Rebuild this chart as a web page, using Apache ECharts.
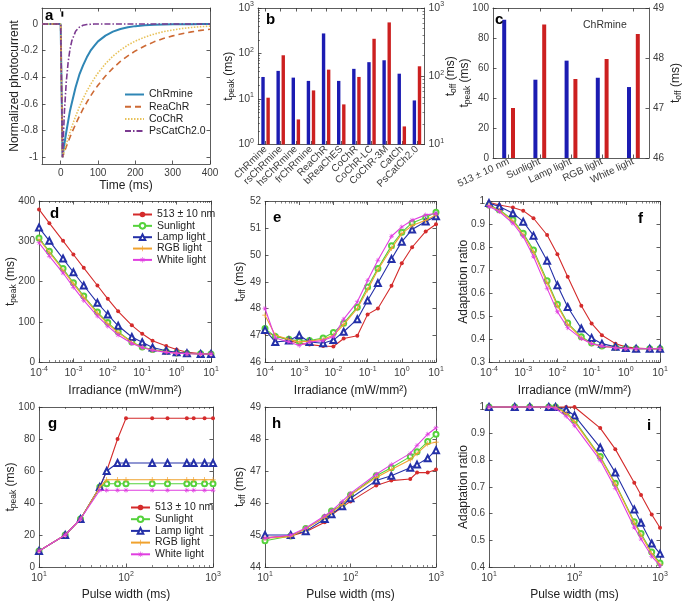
<!DOCTYPE html>
<html><head><meta charset="utf-8">
<script src="https://cdn.jsdelivr.net/npm/echarts@6/dist/echarts.min.js"></script>
<style>html,body{margin:0;padding:0;background:#fff}#c{width:685px;height:610px}</style>
</head><body><div id="c"></div>
<script>
// ================= DATA =================
// Panel a: normalized photocurrent traces
const timeMs = [-50, 0, 5, 10, 15, 20, 25, 30, 40, 50, 60, 70, 80, 90, 100, 120, 140, 160, 180, 200, 225, 250, 275, 300, 325, 350, 375, 400];
const curveChRmine = [0, 0, -1, -0.90, -0.81, -0.73, -0.65, -0.59, -0.475, -0.38, -0.31, -0.25, -0.20, -0.164, -0.13, -0.087, -0.057, -0.037, -0.024, -0.016, -0.009, -0.006, -0.003, -0.002, -0.001, -0.001, 0, 0];
const curveReaChR = [0, 0, -1, -0.96, -0.921, -0.884, -0.849, -0.815, -0.751, -0.692, -0.637, -0.587, -0.541, -0.498, -0.459, -0.39, -0.331, -0.281, -0.239, -0.202, -0.165, -0.134, -0.109, -0.089, -0.073, -0.059, -0.048, -0.039];
const curveCoChR = [0, 0, -1, -0.949, -0.90, -0.854, -0.81, -0.769, -0.692, -0.623, -0.56, -0.504, -0.454, -0.409, -0.368, -0.298, -0.241, -0.196, -0.158, -0.128, -0.099, -0.076, -0.058, -0.045, -0.034, -0.026, -0.02, -0.016];
const curvePsCatCh = [0, 0, -1, -0.659, -0.435, -0.287, -0.189, -0.125, -0.054, -0.024, -0.01, -0.004, -0.002, 0, 0, 0, 0, 0, 0, 0, 0, 0, 0, 0, 0, 0, 0, 0];
const curveNames = ['ChRmine', 'ReaChR', 'CoChR', 'PsCatCh2.0'];
const pulseMarker = [[2, 0.055], [7, 0.095]];

// Panel b: opsins
const opsins = ['ChRmine', 'rsChRmine', 'hsChRmine', 'frChRmine', 'ReaChR', 'bReaChES', 'CoChR', 'CoChR-LC', 'CoChR-3M', 'CatCh', 'PsCatCh2.0'];
const opsinTpeak = [30.5, 41.5, 29.5, 25, 276, 25, 46, 64.5, 71, 36, 9.3];
const opsinToff = [48.5, 203, 23.3, 62, 125, 38.7, 97.7, 354, 615, 18.4, 140];

// Panel c: light sources (ChRmine)
const sources = ['513 ± 10 nm', 'Sunlight', 'Lamp light', 'RGB light', 'White light'];
const sourceTpeak = [92.2, 52.2, 64.9, 53.5, 47.3];
const sourceToff = [47.0, 48.67, 47.58, 47.98, 48.48];

// Panels d-f: vs irradiance
const irradiance = [1e-4, 2e-4, 5e-4, 1e-3, 2e-3, 5e-3, 1e-2, 2e-2, 5e-2, 0.1, 0.2, 0.5, 1, 2, 5, 10];
const irrTpeak513 = [379, 345, 301, 267, 234, 190, 157, 126, 91, 70, 53, 40, 31, 24, 21, 20];
const irrTpeakSun = [308, 275, 232, 197, 164, 124, 98, 75, 50, 37, 31, 26, 22.5, 21, 20.5, 20];
const irrTpeakLamp = [334, 301, 257, 223, 190, 147, 118, 90, 62, 49, 36, 28, 24, 22, 20, 20];
const irrTpeakRGB = [305, 272, 228, 194, 161, 121, 95, 73, 49, 36, 30, 25, 22, 21, 20, 20];
const irrTpeakWhite = [296, 263, 221, 186, 153, 114, 89, 67, 46, 36, 29, 24, 22, 20.5, 20, 20];

const irrToff513 = [47.1, 47.0, 46.8, 46.7, 46.65, 46.6, 46.58, 46.88, 46.98, 47.78, 48.0, 48.85, 49.69, 50.29, 50.88, 51.15];
const irrToffSun = [47.25, 46.95, 46.85, 46.78, 46.8, 46.9, 47.1, 47.45, 48.05, 48.8, 49.5, 50.35, 50.85, 51.2, 51.4, 51.6];
const irrToffLamp = [47.2, 46.75, 46.8, 47.0, 46.75, 46.7, 46.82, 47.13, 47.6, 48.3, 48.95, 49.85, 50.5, 50.95, 51.25, 51.45];
const irrToffRGB = [47.75, 47.0, 46.85, 46.75, 46.78, 46.85, 47.0, 47.4, 48.0, 48.7, 49.45, 50.25, 50.8, 51.1, 51.3, 51.5];
const irrToffWhite = [48.0, 46.9, 46.75, 46.62, 46.75, 46.8, 46.95, 47.6, 48.25, 49.05, 49.8, 50.7, 51.05, 51.3, 51.5, 51.55];

const irrAdapt513 = [0.997, 0.985, 0.974, 0.96, 0.927, 0.854, 0.77, 0.672, 0.545, 0.468, 0.417, 0.38, 0.366, 0.361, 0.358, 0.358];
const irrAdaptSun = [0.985, 0.964, 0.92, 0.861, 0.789, 0.654, 0.552, 0.47, 0.41, 0.383, 0.37, 0.363, 0.36, 0.358, 0.358, 0.358];
const irrAdaptLamp = [0.993, 0.978, 0.949, 0.912, 0.851, 0.742, 0.635, 0.54, 0.446, 0.405, 0.38, 0.366, 0.361, 0.358, 0.358, 0.358];
const irrAdaptRGB = [0.983, 0.96, 0.915, 0.855, 0.78, 0.645, 0.545, 0.465, 0.405, 0.38, 0.368, 0.362, 0.36, 0.358, 0.358, 0.358];
const irrAdaptWhite = [0.978, 0.956, 0.905, 0.847, 0.76, 0.621, 0.519, 0.449, 0.402, 0.38, 0.37, 0.361, 0.358, 0.358, 0.358, 0.358];

// Panels g-i: vs pulse width
const pulseWidth = [10, 20, 30, 50, 60, 80, 100, 200, 300, 500, 600, 800, 1000];
const pwTpeak513 = [10, 20, 30, 50, 60, 80, 93, 93, 93, 93, 93, 93, 93];
const pwTpeakSun = [10, 20, 30, 50, 52, 52, 52, 52, 52, 52, 52, 52, 52];
const pwTpeakLamp = [10, 20, 30, 50, 60, 65, 65, 65, 65, 65, 65, 65, 65];
const pwTpeakRGB = [10, 20, 30, 50, 54.5, 54.5, 54.5, 54.5, 54.5, 54.5, 54.5, 54.5, 54.5];
const pwTpeakWhite = [10, 20, 30, 48, 48, 48, 48, 48, 48, 48, 48, 48, 48];

const pwToff513 = [44.92, 44.97, 45.1, 45.4, 45.62, 45.87, 46.05, 46.55, 46.7, 46.75, 46.95, 46.95, 47.05];
const pwToffSun = [44.82, 44.97, 45.2, 45.55, 45.75, 45.95, 46.25, 46.85, 47.1, 47.45, 47.6, 47.92, 48.15];
const pwToffLamp = [45.0, 45.0, 45.12, 45.5, 45.65, 45.9, 46.15, 46.7, 46.85, 47.1, 47.2, 47.4, 47.65];
const pwToffRGB = [44.9, 44.95, 45.2, 45.55, 45.7, 45.95, 46.25, 46.8, 47.05, 47.35, 47.55, 47.85, 47.9];
const pwToffWhite = [44.9, 45.0, 45.22, 45.6, 45.75, 46.05, 46.3, 46.9, 47.2, 47.55, 47.8, 48.15, 48.35];

const pwAdapt513 = [1, 1, 1, 1, 1, 1, 1, 0.921, 0.842, 0.716, 0.67, 0.597, 0.547];
const pwAdaptSun = [1, 1, 1, 1, 1, 0.98, 0.95, 0.814, 0.714, 0.57, 0.526, 0.456, 0.415];
const pwAdaptLamp = [1, 1, 1, 1, 1, 0.99, 0.968, 0.848, 0.754, 0.616, 0.566, 0.488, 0.45];
const pwAdaptRGB = [1, 1, 1, 1, 1, 0.975, 0.945, 0.81, 0.71, 0.565, 0.52, 0.45, 0.41];
const pwAdaptWhite = [1, 1, 1, 1, 0.995, 0.965, 0.93, 0.80, 0.695, 0.548, 0.505, 0.44, 0.405];

// Tick values
const ticksA_x = [0, 100, 200, 300, 400];
const ticksA_y = [-1, -0.8, -0.6, -0.4, -0.2, 0];
const ticksIrr = [1e-4, 1e-3, 1e-2, 1e-1, 1, 10];
const ticksPw = [10, 100, 1000];

// ================= CHART =================
const FONT = 'Liberation Sans';
const AXC = '#333333', LBC = '#3c3c3c';
const PLUS = 'path://M4.4,0H5.6V4.4H10V5.6H5.6V10H4.4V5.6H0V4.4H4.4Z';
const STAR = 'path://M4.5,0H5.5V10H4.5Z M0,4.5H10V5.5H0Z M1.85,1.15L8.85,8.15L8.15,8.85L1.15,1.85Z M8.15,1.15L8.85,1.85L1.85,8.85L1.15,8.15Z';

const grids = [
  {left: 42, top: 8, width: 168, height: 156},      // a
  {left: 258, top: 8, width: 166.5, height: 136.5}, // b
  {left: 493, top: 8, width: 156, height: 150},     // c
  {left: 39, top: 201, width: 172, height: 161},    // d
  {left: 265, top: 201.5, width: 171, height: 160.5}, // e
  {left: 489, top: 201.5, width: 171, height: 160.5}, // f
  {left: 39, top: 407, width: 174, height: 160},    // g
  {left: 265, top: 407, width: 171, height: 160},   // h
  {left: 489, top: 407, width: 171, height: 160}    // i
];

const xAxes = [], yAxes = [];
const TFS = 10;
const expRich = {
  b: {fontSize: 10.5, color: LBC, lineHeight: 14, fontFamily: FONT},
  s: {fontSize: 7, color: LBC, lineHeight: 8, verticalAlign: 'top', fontFamily: FONT}
};
const nameRich = {
  n: {fontSize: 12, color: '#222', lineHeight: 15, fontFamily: FONT},
  sub: {fontSize: 8.5, color: '#222', lineHeight: 9, verticalAlign: 'bottom', fontFamily: FONT}
};
function expFmt(v) { return '{b|10}{s|' + Math.round(Math.log10(v)) + '}'; }

function mkAxis(gi, o, mirror) {
  const a = {
    gridIndex: gi,
    type: o.type || 'value',
    position: mirror ? o.mpos : o.pos,
    min: o.min, max: o.max,
    axisLine: {show: true, onZero: false, lineStyle: {color: AXC, width: 0.8}},
    axisTick: {show: true, inside: true, length: 3.5, alignWithLabel: true, lineStyle: {color: AXC, width: 0.8}},
    axisLabel: {show: !mirror, color: LBC, fontSize: TFS, fontFamily: FONT, margin: 4},
    splitLine: {show: false},
    axisPointer: {show: false},
    nameMoveOverlap: false
  };
  if (o.data) a.data = o.data;
  if (o.interval) a.interval = o.interval;
  if (o.type === 'log') {
    a.logBase = 10;
    a.minorTick = {show: true, splitNumber: 9, length: 2, lineStyle: {color: AXC, width: 0.6}};
    a.axisLabel.formatter = expFmt;
    a.axisLabel.rich = expRich;
  }
  if (o.custom) {
    a.axisTick.customValues = o.custom;
    a.axisLabel.customValues = o.custom;
  }
  if (o.fmt) a.axisLabel.formatter = o.fmt;
  if (o.type === 'category') a.axisLabel.interval = 0;
  if (o.rotate) { a.axisLabel.rotate = o.rotate; a.axisLabel.fontSize = o.lfs || 10; a.axisLabel.margin = 3; }
  if (o.name && !mirror) {
    a.name = o.name;
    a.nameLocation = 'middle';
    a.nameGap = o.gap;
    if (o.rotName) a.nameRotate = 90;
    a.nameTextStyle = {fontSize: 12, color: '#222', fontFamily: FONT, rich: nameRich};
  }
  return a;
}
function addAxes(gi, xo, yo, y2o) {
  const xi = xAxes.length;
  xAxes.push(mkAxis(gi, Object.assign({pos: 'bottom', mpos: 'top'}, xo), false));
  xAxes.push(mkAxis(gi, Object.assign({pos: 'bottom', mpos: 'top'}, xo), true));
  const yi = yAxes.length;
  yAxes.push(mkAxis(gi, Object.assign({pos: 'left', mpos: 'right', rotName: true}, yo), false));
  if (y2o) {
    yAxes.push(mkAxis(gi, Object.assign({pos: 'right', rotName: true}, y2o), false));
  } else {
    yAxes.push(mkAxis(gi, Object.assign({pos: 'left', mpos: 'right', rotName: true}, yo), true));
  }
  return {x: xi, y: yi, y2: yi + 1};
}

const TPEAK = '{n|t}{sub|peak}{n| (ms)}';
const TOFF = '{n|t}{sub|off}{n| (ms)}';
const oneDec = v => String(Math.round(v * 10) / 10);

const A = addAxes(0,
  {min: -50, max: 400, custom: ticksA_x, name: 'Time (ms)', gap: 16},
  {min: -1.05, max: 0.12, custom: ticksA_y, fmt: oneDec, name: 'Normalized photocurrent', gap: 21});
const B = addAxes(1,
  {type: 'category', data: opsins, rotate: 45, lfs: 10},
  {type: 'log', min: 1, max: 1000, name: TPEAK, gap: 22},
  {type: 'log', min: 10, max: 1000, name: TOFF, gap: 19});
const C = addAxes(2,
  {type: 'category', data: sources, rotate: 25, lfs: 10},
  {min: 0, max: 100, interval: 20, name: TPEAK, gap: 20.5},
  {min: 46, max: 49, interval: 1, name: TOFF, gap: 19});
const D = addAxes(3,
  {type: 'log', min: 1e-4, max: 10, custom: ticksIrr, name: 'Irradiance (mW/mm²)', gap: 23},
  {min: 0, max: 400, interval: 100, name: TPEAK, gap: 21});
const E = addAxes(4,
  {type: 'log', min: 1e-4, max: 10, custom: ticksIrr, name: 'Irradiance (mW/mm²)', gap: 23},
  {min: 46, max: 52, interval: 1, name: TOFF, gap: 18});
const F = addAxes(5,
  {type: 'log', min: 1e-4, max: 10, custom: ticksIrr, name: 'Irradiance (mW/mm²)', gap: 23},
  {min: 0.3, max: 1, interval: 0.1, fmt: oneDec, name: 'Adaptation ratio', gap: 19.5});
const G = addAxes(6,
  {type: 'log', min: 10, max: 1000, custom: ticksPw, name: 'Pulse width (ms)', gap: 22},
  {min: 0, max: 100, interval: 20, name: TPEAK, gap: 21});
const H = addAxes(7,
  {type: 'log', min: 10, max: 1000, custom: ticksPw, name: 'Pulse width (ms)', gap: 22},
  {min: 44, max: 49, interval: 1, name: TOFF, gap: 18});
const I = addAxes(8,
  {type: 'log', min: 10, max: 1000, custom: ticksPw, name: 'Pulse width (ms)', gap: 22},
  {min: 0.4, max: 1, interval: 0.1, fmt: oneDec, name: 'Adaptation ratio', gap: 19.5});

const series = [];
function zip(xs, ys) { return xs.map((x, i) => [x, ys[i]]); }

// Panel a
const curveStyles = [
  {color: '#2f86b5', type: 'solid', width: 2},
  {color: '#cd6a35', type: [6, 4], width: 1.6},
  {color: '#e8c25a', type: [1.5, 1.5], width: 1.6},
  {color: '#7b3a90', type: [6, 2, 1.5, 2], width: 1.6}
];
[curveChRmine, curveReaChR, curveCoChR, curvePsCatCh].forEach((ys, k) => {
  const s = {
    type: 'line', name: curveNames[k], xAxisIndex: A.x, yAxisIndex: A.y,
    data: zip(timeMs, ys), showSymbol: false, symbol: 'none',
    lineStyle: curveStyles[k], itemStyle: {color: curveStyles[k].color}, z: 3 + k
  };
  if (k === 0) {
    s.markArea = {silent: true, itemStyle: {color: '#000'},
      data: [[{coord: pulseMarker[0]}, {coord: pulseMarker[1]}]]};
  }
  series.push(s);
});

// Panel b
const BLUE = '#1c1cb2', RED = '#cc2020';
series.push({type: 'bar', name: 'bt', xAxisIndex: B.x, yAxisIndex: B.y, data: opsinTpeak, barWidth: 3.4, barGap: '50%', itemStyle: {color: BLUE}});
series.push({type: 'bar', name: 'bo', xAxisIndex: B.x, yAxisIndex: B.y2, data: opsinToff, barWidth: 3.4, barGap: '50%', itemStyle: {color: RED}});
// Panel c
series.push({type: 'bar', name: 'ct', xAxisIndex: C.x, yAxisIndex: C.y, data: sourceTpeak, barWidth: 4, barGap: '120%', itemStyle: {color: BLUE}});
series.push({type: 'bar', name: 'co', xAxisIndex: C.x, yAxisIndex: C.y2, data: sourceToff, barWidth: 4, barGap: '120%', itemStyle: {color: RED}});

// Panels d-i
const srcStyle = [
  {color: '#d42b2b', symbol: 'circle', size: 4, bw: 0},
  {color: '#55d23c', symbol: 'emptyCircle', size: 5, bw: 1.1},
  {color: '#2430a8', symbol: 'emptyTriangle', size: 6, bw: 1.4},
  {color: '#f0a22e', symbol: PLUS, size: 5.5, bw: 0},
  {color: '#e03ee0', symbol: STAR, size: 5, bw: 0}
];
function addSrcSeries(ax, xs, arrs) {
  arrs.forEach((ys, k) => {
    const st = srcStyle[k];
    series.push({
      type: 'line', name: sources[k], xAxisIndex: ax.x, yAxisIndex: ax.y,
      data: zip(xs, ys), symbol: st.symbol, symbolSize: st.size, showSymbol: true,
      lineStyle: {color: st.color, width: 1.1},
      itemStyle: {color: st.color, borderColor: st.color, borderWidth: st.bw},
      z: 3 + k, clip: false
    });
  });
}
addSrcSeries(D, irradiance, [irrTpeak513, irrTpeakSun, irrTpeakLamp, irrTpeakRGB, irrTpeakWhite]);
addSrcSeries(E, irradiance, [irrToff513, irrToffSun, irrToffLamp, irrToffRGB, irrToffWhite]);
addSrcSeries(F, irradiance, [irrAdapt513, irrAdaptSun, irrAdaptLamp, irrAdaptRGB, irrAdaptWhite]);
addSrcSeries(G, pulseWidth, [pwTpeak513, pwTpeakSun, pwTpeakLamp, pwTpeakRGB, pwTpeakWhite]);
addSrcSeries(H, pulseWidth, [pwToff513, pwToffSun, pwToffLamp, pwToffRGB, pwToffWhite]);
addSrcSeries(I, pulseWidth, [pwAdapt513, pwAdaptSun, pwAdaptLamp, pwAdaptRGB, pwAdaptWhite]);

const legendText = {fontSize: 10.5, color: '#222', fontFamily: FONT, lineHeight: 11};
const legends = [
  {data: curveNames, left: 124, top: 89, padding: 0, orient: 'vertical', itemWidth: 19, itemHeight: 8, itemGap: 1.2, textStyle: legendText, selectedMode: false, itemStyle: {opacity: 0}},
  {data: sources, left: 132, top: 209, padding: 0, orient: 'vertical', itemWidth: 19, itemHeight: 7, itemGap: 0.35, textStyle: legendText, selectedMode: false},
  {data: sources, left: 130, top: 502, padding: 0, orient: 'vertical', itemWidth: 19, itemHeight: 7, itemGap: 0.7, textStyle: legendText, selectedMode: false}
];

const letters = [
  ['a', 45, 8], ['b', 266, 12], ['c', 495, 12], ['d', 50, 206], ['e', 273, 210],
  ['f', 638, 211], ['g', 48, 416], ['h', 272, 416], ['i', 647, 418]
];
const graphic = letters.map(([t, x, y]) => ({
  type: 'text', left: x, top: y, z: 100,
  style: {text: t, font: 'bold 15px "Liberation Sans"', fill: '#000'}
}));
graphic.push({type: 'text', left: 583, top: 20, style: {text: 'ChRmine', font: '10.5px "Liberation Sans"', fill: '#333'}});

const chart = echarts.init(document.getElementById('c'), null, {renderer: 'canvas'});
chart.setOption({
  animation: false,
  backgroundColor: '#fff',
  textStyle: {fontFamily: FONT},
  grid: grids,
  xAxis: xAxes,
  yAxis: yAxes,
  legend: legends,
  series: series,
  graphic: graphic
});
</script></body></html>
